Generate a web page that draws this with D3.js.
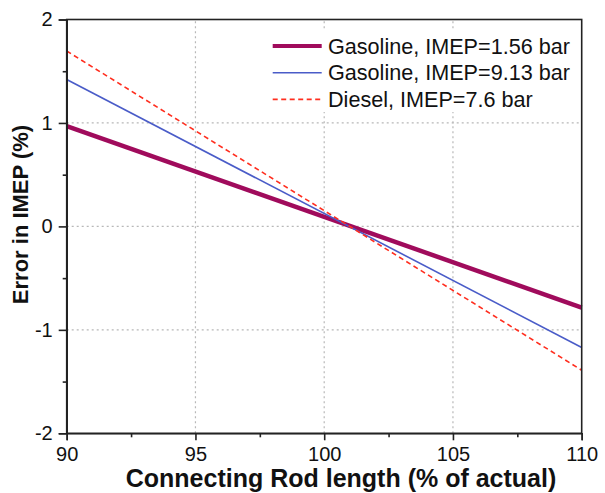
<!DOCTYPE html>
<html>
<head>
<meta charset="utf-8">
<script src="https://cdn.jsdelivr.net/npm/d3@7/dist/d3.min.js"></script>
<style>
  html, body { margin: 0; padding: 0; background: #fff; }
  svg { display: block; font-family: "Liberation Sans", Arial, sans-serif; }
</style>
</head>
<body>
<svg id="chart" width="605" height="493"></svg>
<script>
// Connecting rod length sweep (% of actual) and resulting IMEP error (%)
const rodLength = [90, 110];
const gasolineLow = [0.97, -0.785];
const gasolineHigh = [1.42, -1.17];
const diesel = [1.695, -1.39];

const xTicks = [90, 95, 100, 105, 110];
const xMinorTicks = [92.5, 97.5, 102.5, 107.5];
const yTicks = [-2, -1, 0, 1, 2];
const yMinorTicks = [-1.5, -0.5, 0.5, 1.5];

const seriesNames = [
  "Gasoline, IMEP=1.56 bar",
  "Gasoline, IMEP=9.13 bar",
  "Diesel, IMEP=7.6 bar"
];

const series = [
  { name: seriesNames[0], values: gasolineLow, color: "#a00b5c", width: 4.5, legendWidth: 4, dash: null },
  { name: seriesNames[1], values: gasolineHigh, color: "#4a5cc8", width: 1.6, legendWidth: 1.6, dash: null },
  { name: seriesNames[2], values: diesel, color: "#ff2e1f", width: 1.6, legendWidth: 1.6, dash: "5,3.5" }
];

const svg = d3.select("#chart");
const margin = { left: 66.7, right: 23.3, top: 19.5, bottom: 59.7 };
const W = 605, H = 493;

const x = d3.scaleLinear().domain([90, 110]).range([margin.left, W - margin.right]);
const y = d3.scaleLinear().domain([-2, 2]).range([H - margin.bottom, margin.top]);

// plain hyphen for negative labels
const fmt = d => String(d);

// dotted grid at interior major ticks
const grid = svg.append("g").attr("stroke", "#b8b8b8").attr("stroke-width", 1.2)
  .attr("stroke-dasharray", "2,3");
xTicks.filter(v => v > 90 && v < 110).forEach(v => {
  grid.append("line").attr("x1", x(v)).attr("x2", x(v)).attr("y1", y(-2)).attr("y2", y(2));
});
yTicks.filter(v => v > -2 && v < 2).forEach(v => {
  grid.append("line").attr("x1", x(90)).attr("x2", x(110)).attr("y1", y(v)).attr("y2", y(v));
});

// data lines
const line = d3.line().x((d, i) => x(rodLength[i])).y(d => y(d));
series.forEach(s => {
  svg.append("path")
    .datum(s.values)
    .attr("d", line)
    .attr("fill", "none")
    .attr("stroke", s.color)
    .attr("stroke-width", s.width)
    .attr("stroke-dasharray", s.dash);
});

// frame
svg.append("rect")
  .attr("x", x(90)).attr("y", y(2))
  .attr("width", x(110) - x(90)).attr("height", y(-2) - y(2))
  .attr("fill", "none").attr("stroke", "#222").attr("stroke-width", 1.6);

// axes
svg.append("g").attr("transform", `translate(0,${y(-2)})`)
  .call(d3.axisBottom(x).tickValues(xTicks).tickSize(7).tickPadding(7).tickFormat(fmt));
svg.append("g").attr("transform", `translate(0,${y(-2)})`)
  .call(d3.axisBottom(x).tickValues(xMinorTicks).tickSize(4).tickFormat(""))
  .call(g => g.select(".domain").remove());
svg.append("g").attr("transform", `translate(${x(90)},0)`)
  .call(d3.axisLeft(y).tickValues(yTicks).tickSize(8).tickPadding(6).tickFormat(fmt));
svg.append("g").attr("transform", `translate(${x(90)},0)`)
  .call(d3.axisLeft(y).tickValues(yMinorTicks).tickSize(4).tickFormat(""))
  .call(g => g.select(".domain").remove());

svg.selectAll(".domain").attr("stroke", "#222").attr("stroke-width", 1.6);
svg.selectAll(".tick line").attr("stroke", "#222").attr("stroke-width", 1.6);
svg.selectAll(".tick text").attr("font-size", 20).attr("fill", "#111")
  .attr("font-family", "'Liberation Sans', Arial, sans-serif");

// axis titles
svg.append("text")
  .attr("x", 341).attr("y", 487)
  .attr("text-anchor", "middle")
  .attr("font-size", 25).attr("font-weight", "bold").attr("fill", "#111")
  .text("Connecting Rod length (% of actual)");

svg.append("text")
  .attr("transform", "translate(28,214.5) rotate(-90)")
  .attr("text-anchor", "middle")
  .attr("font-size", 22).attr("font-weight", "bold").attr("fill", "#111")
  .text("Error in IMEP (%)");

// legend
const legend = svg.append("g");
legend.append("rect")
  .attr("x", 265).attr("y", 30).attr("width", 314).attr("height", 82)
  .attr("fill", "#fff");
series.forEach((s, i) => {
  const ly = 46 + i * 26.7;
  legend.append("line")
    .attr("x1", 272.7).attr("x2", 321.7).attr("y1", ly).attr("y2", ly)
    .attr("stroke", s.color).attr("stroke-width", s.legendWidth)
    .attr("stroke-dasharray", s.dash);
  legend.append("text")
    .attr("x", 328).attr("y", ly + 7.5)
    .attr("font-size", 21.6).attr("fill", "#111")
    .text(s.name);
});
</script>
</body>
</html>
